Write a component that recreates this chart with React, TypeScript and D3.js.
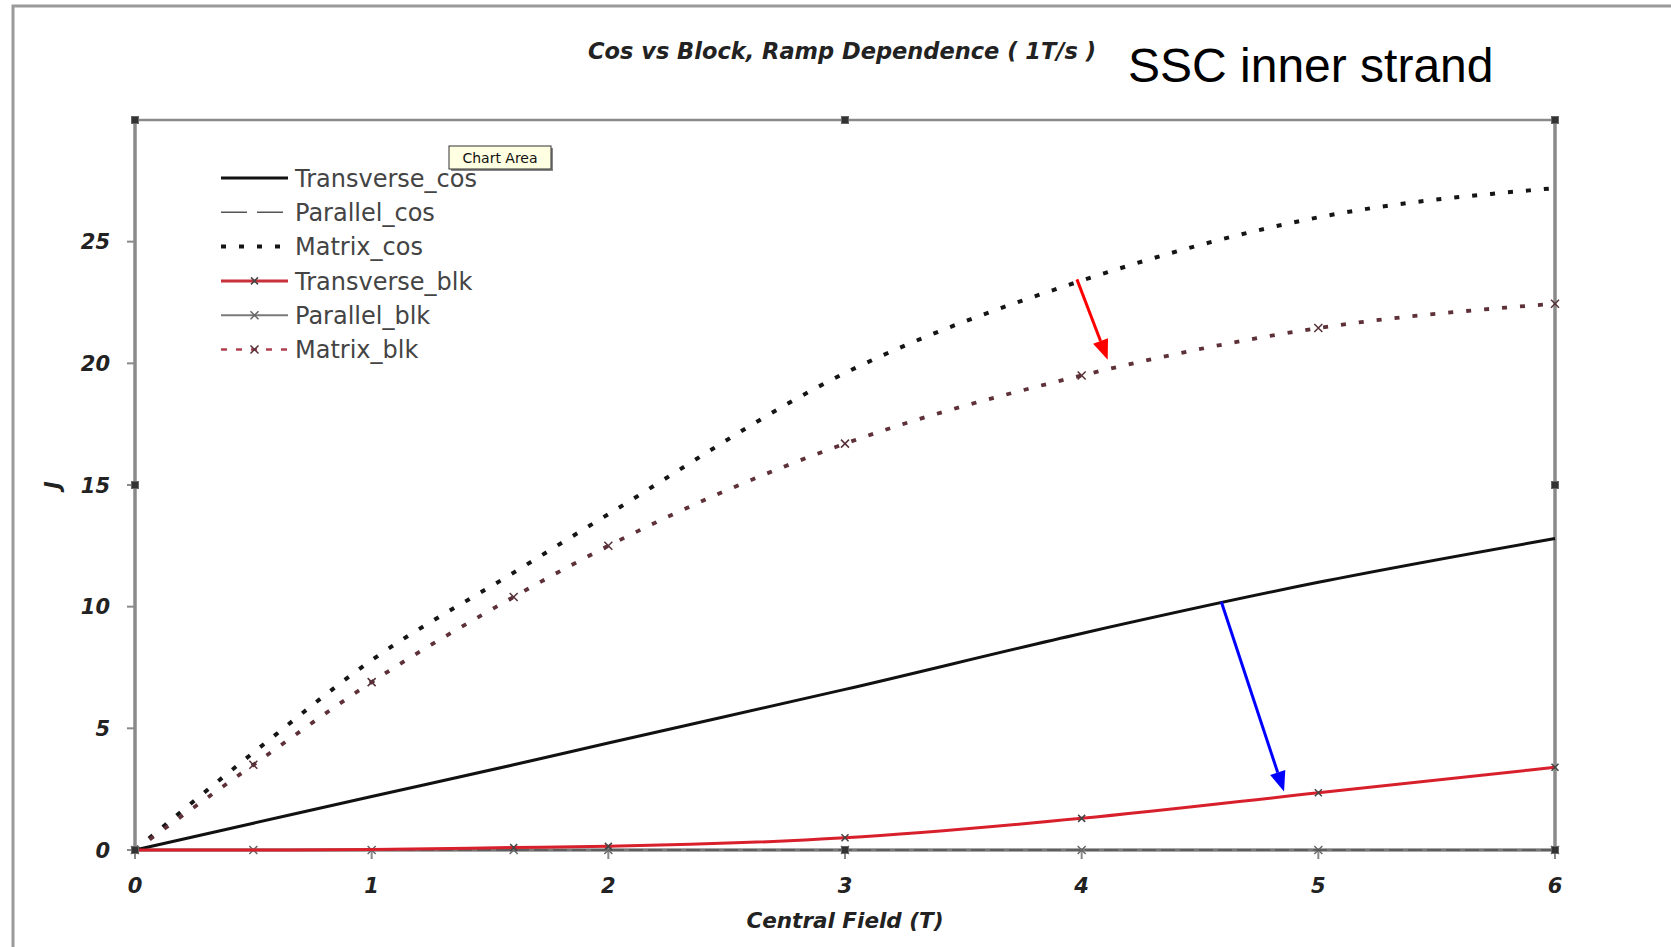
import React from "react";
import * as d3 from "d3";

// Central field values (T) at which each series was computed
const FIELD = [0, 0.5, 1, 1.6, 2, 3, 4, 5, 6];

// Loss J for the cos-theta coil and the block coil
const TRANSVERSE_COS = [0, 1.1, 2.2, 3.5, 4.4, 6.6, 8.9, 11.0, 12.8];
const PARALLEL_COS = [0, 0, 0, 0, 0, 0, 0, 0, 0];
const MATRIX_COS = [0, 4.0, 7.8, 11.4, 13.8, 19.6, 23.4, 26.0, 27.2];
const TRANSVERSE_BLK = [0, 0, 0.02, 0.1, 0.15, 0.5, 1.3, 2.35, 3.4];
const PARALLEL_BLK = [0, 0, 0, 0, 0, 0, 0, 0, 0];
const MATRIX_BLK = [0, 3.5, 6.9, 10.4, 12.5, 16.7, 19.5, 21.45, 22.45];

const X_TICKS = [0, 1, 2, 3, 4, 5, 6];
const Y_TICKS = [0, 5, 10, 15, 20, 25];

const LEGEND_LABELS = [
  "Transverse_cos",
  "Parallel_cos",
  "Matrix_cos",
  "Transverse_blk",
  "Parallel_blk",
  "Matrix_blk",
];

// Annotation arrows in data space: [x0, y0, x1, y1]
const RED_ARROW = [3.98, 23.45, 4.11, 20.15];
const BLUE_ARROW = [4.59, 10.2, 4.855, 2.4];

const W = 1671;
const H = 947;
const LEFT = 135;
const RIGHT = 1555;
const TOP = 120;
const BOTTOM = 850;

const BOLD_IT = {
  fontFamily: "'DejaVu Sans', sans-serif",
  fontWeight: "bold" as const,
  fontStyle: "oblique" as const,
};

function xMarker(cx: number, cy: number, s: number) {
  return `M${cx - s},${cy - s}L${cx + s},${cy + s}M${cx - s},${cy + s}L${cx + s},${cy - s}`;
}

function Arrow({ pts, color, x, y }: { pts: number[]; color: string; x: any; y: any }) {
  const x0 = x(pts[0]);
  const y0 = y(pts[1]);
  const x1 = x(pts[2]);
  const y1 = y(pts[3]);
  const ang = Math.atan2(y1 - y0, x1 - x0);
  const len = 20;
  const half = 8;
  const bx = x1 - len * Math.cos(ang);
  const by = y1 - len * Math.sin(ang);
  const px = -Math.sin(ang) * half;
  const py = Math.cos(ang) * half;
  return (
    <g>
      <line x1={x0} y1={y0} x2={bx} y2={by} stroke={color} strokeWidth={3} />
      <polygon
        points={`${x1},${y1} ${bx + px},${by + py} ${bx - px},${by - py}`}
        fill={color}
      />
    </g>
  );
}

export default function App() {
  const x = d3.scaleLinear().domain([0, 6]).range([LEFT, RIGHT]);
  const y = d3.scaleLinear().domain([0, 30]).range([BOTTOM, TOP]);

  const line = d3
    .line<[number, number]>()
    .x((d) => x(d[0]))
    .y((d) => y(d[1]))
    .curve(d3.curveMonotoneX);

  const pts = (vals: number[]) => FIELD.map((f, i) => [f, vals[i]] as [number, number]);

  const handles = [
    [LEFT, TOP],
    [(LEFT + RIGHT) / 2, TOP],
    [RIGHT, TOP],
    [LEFT, (TOP + BOTTOM) / 2],
    [RIGHT, (TOP + BOTTOM) / 2],
    [LEFT, BOTTOM],
    [(LEFT + RIGHT) / 2, BOTTOM],
    [RIGHT, BOTTOM],
  ];

  const legendY0 = 178;
  const legendStep = 34.3;
  const lx0 = 221;
  const lx1 = 288;

  return (
    <svg
      width={W}
      height={H}
      style={{ position: "absolute", left: 0, top: 0, background: "#fff" }}
    >
      <rect x={0} y={0} width={W} height={H} fill="#fff" />
      {/* outer chart border */}
      <rect x={13} y={6} width={W + 20} height={H + 20} fill="none" stroke="#9a9a9a" strokeWidth={3} />

      {/* titles */}
      <text x={842} y={59} textAnchor="middle" fontSize={22.5} fill="#222" {...BOLD_IT}>
        Cos vs Block, Ramp Dependence ( 1T/s )
      </text>
      <text x={1128} y={82} fontSize={48} fill="#000" fontFamily="'Liberation Sans', Arial, sans-serif">
        SSC inner strand
      </text>

      {/* plot frame */}
      <line x1={LEFT} y1={TOP} x2={RIGHT} y2={TOP} stroke="#8a8a8a" strokeWidth={2.5} />
      <line x1={LEFT} y1={TOP} x2={LEFT} y2={BOTTOM} stroke="#8a8a8a" strokeWidth={3.5} />
      <line x1={RIGHT} y1={TOP} x2={RIGHT} y2={BOTTOM} stroke="#8a8a8a" strokeWidth={3.5} />
      <line x1={LEFT} y1={BOTTOM} x2={RIGHT} y2={BOTTOM} stroke="#8a8a8a" strokeWidth={3.5} />

      {/* y ticks */}
      {Y_TICKS.map((t) => (
        <g key={`y${t}`}>
          <line x1={LEFT - 8} x2={LEFT} y1={y(t)} y2={y(t)} stroke="#8a8a8a" strokeWidth={2} />
          <text x={110} y={y(t)} dy="0.36em" textAnchor="end" fontSize={21} fill="#222" {...BOLD_IT}>
            {t}
          </text>
        </g>
      ))}
      {/* x ticks */}
      {X_TICKS.map((t) => (
        <g key={`x${t}`}>
          <line x1={x(t)} x2={x(t)} y1={BOTTOM} y2={BOTTOM + 9} stroke="#8a8a8a" strokeWidth={2} />
          <text x={x(t)} y={885} dy="0.36em" textAnchor="middle" fontSize={21} fill="#222" {...BOLD_IT}>
            {t}
          </text>
        </g>
      ))}

      <text x={845} y={928} textAnchor="middle" fontSize={21.5} fill="#222" {...BOLD_IT}>
        Central Field (T)
      </text>
      <text
        transform={`translate(52,${(TOP + BOTTOM) / 2}) rotate(-90)`}
        textAnchor="middle"
        dy="0.36em"
        fontSize={21}
        fill="#222"
        {...BOLD_IT}
      >
        J
      </text>

      {/* series */}
      <path d={line(pts(PARALLEL_BLK)) || ""} fill="none" stroke="#7a7a7a" strokeWidth={2} />
      {FIELD.map((f, i) => (
        <path key={`pb${i}`} d={xMarker(x(f), y(PARALLEL_BLK[i]), 4)} stroke="#666" strokeWidth={1.5} />
      ))}
      <path
        d={line(pts(PARALLEL_COS)) || ""}
        fill="none"
        stroke="#555"
        strokeWidth={1.5}
        strokeDasharray="14 5"
      />
      <path d={line(pts(TRANSVERSE_COS)) || ""} fill="none" stroke="#111" strokeWidth={3} />
      <path d={line(pts(TRANSVERSE_BLK)) || ""} fill="none" stroke="#d8202c" strokeWidth={3} />
      {FIELD.map((f, i) =>
        f >= 1.6 ? (
          <path key={`tb${i}`} d={xMarker(x(f), y(TRANSVERSE_BLK[i]), 3.5)} stroke="#444" strokeWidth={1.5} />
        ) : null
      )}
      <path
        d={line(pts(MATRIX_COS)) || ""}
        fill="none"
        stroke="#151515"
        strokeWidth={4}
        strokeDasharray="5 13"
      />
      <path
        d={line(pts(MATRIX_BLK)) || ""}
        fill="none"
        stroke="#5e3038"
        strokeWidth={3.8}
        strokeDasharray="5 13"
      />
      {FIELD.map((f, i) =>
        f > 0 ? (
          <path key={`mb${i}`} d={xMarker(x(f), y(MATRIX_BLK[i]), 4)} stroke="#553038" strokeWidth={1.5} />
        ) : null
      )}

      {/* selection handles */}
      {handles.map(([hx, hy], i) => (
        <rect key={`h${i}`} x={hx - 3.5} y={hy - 3.5} width={7} height={7} fill="#333" stroke="#666" strokeWidth={1} />
      ))}

      {/* legend */}
      <g>
        <line x1={lx0} x2={lx1} y1={legendY0} y2={legendY0} stroke="#111" strokeWidth={3} />
        <line
          x1={lx0}
          x2={lx1}
          y1={legendY0 + legendStep}
          y2={legendY0 + legendStep}
          stroke="#555"
          strokeWidth={1.5}
          strokeDasharray="26 10"
        />
        <line
          x1={lx0}
          x2={lx1}
          y1={legendY0 + 2 * legendStep}
          y2={legendY0 + 2 * legendStep}
          stroke="#151515"
          strokeWidth={4}
          strokeDasharray="5 13"
        />
        <line
          x1={lx0}
          x2={lx1}
          y1={legendY0 + 3 * legendStep}
          y2={legendY0 + 3 * legendStep}
          stroke="#c8303a"
          strokeWidth={3}
        />
        <path d={xMarker((lx0 + lx1) / 2, legendY0 + 3 * legendStep, 3.5)} stroke="#444" strokeWidth={1.5} />
        <line
          x1={lx0}
          x2={lx1}
          y1={legendY0 + 4 * legendStep}
          y2={legendY0 + 4 * legendStep}
          stroke="#7a7a7a"
          strokeWidth={2}
        />
        <path d={xMarker((lx0 + lx1) / 2, legendY0 + 4 * legendStep, 4)} stroke="#666" strokeWidth={1.5} />
        <line
          x1={lx0}
          x2={lx1}
          y1={legendY0 + 5 * legendStep}
          y2={legendY0 + 5 * legendStep}
          stroke="#b04050"
          strokeWidth={2.5}
          strokeDasharray="6 9"
        />
        <path d={xMarker((lx0 + lx1) / 2, legendY0 + 5 * legendStep, 4)} stroke="#553038" strokeWidth={1.5} />
        {LEGEND_LABELS.map((lab, i) => (
          <text
            key={lab}
            x={295}
            y={legendY0 + i * legendStep}
            dy="0.36em"
            fontSize={24}
            fill="#444"
            fontFamily="'DejaVu Sans', sans-serif"
          >
            {lab}
          </text>
        ))}
      </g>

      {/* tooltip */}
      <rect x={451} y={148} width={102} height={23} fill="#888" />
      <rect x={449} y={146} width={102} height={23} fill="#ffffe1" stroke="#333" strokeWidth={1} />
      <text x={500} y={158} dy="0.36em" textAnchor="middle" fontSize={14} fill="#111" fontFamily="'DejaVu Sans', sans-serif">
        Chart Area
      </text>

      {/* annotation arrows */}
      <Arrow pts={RED_ARROW} color="#ff0000" x={x} y={y} />
      <Arrow pts={BLUE_ARROW} color="#0000ff" x={x} y={y} />
    </svg>
  );
}
